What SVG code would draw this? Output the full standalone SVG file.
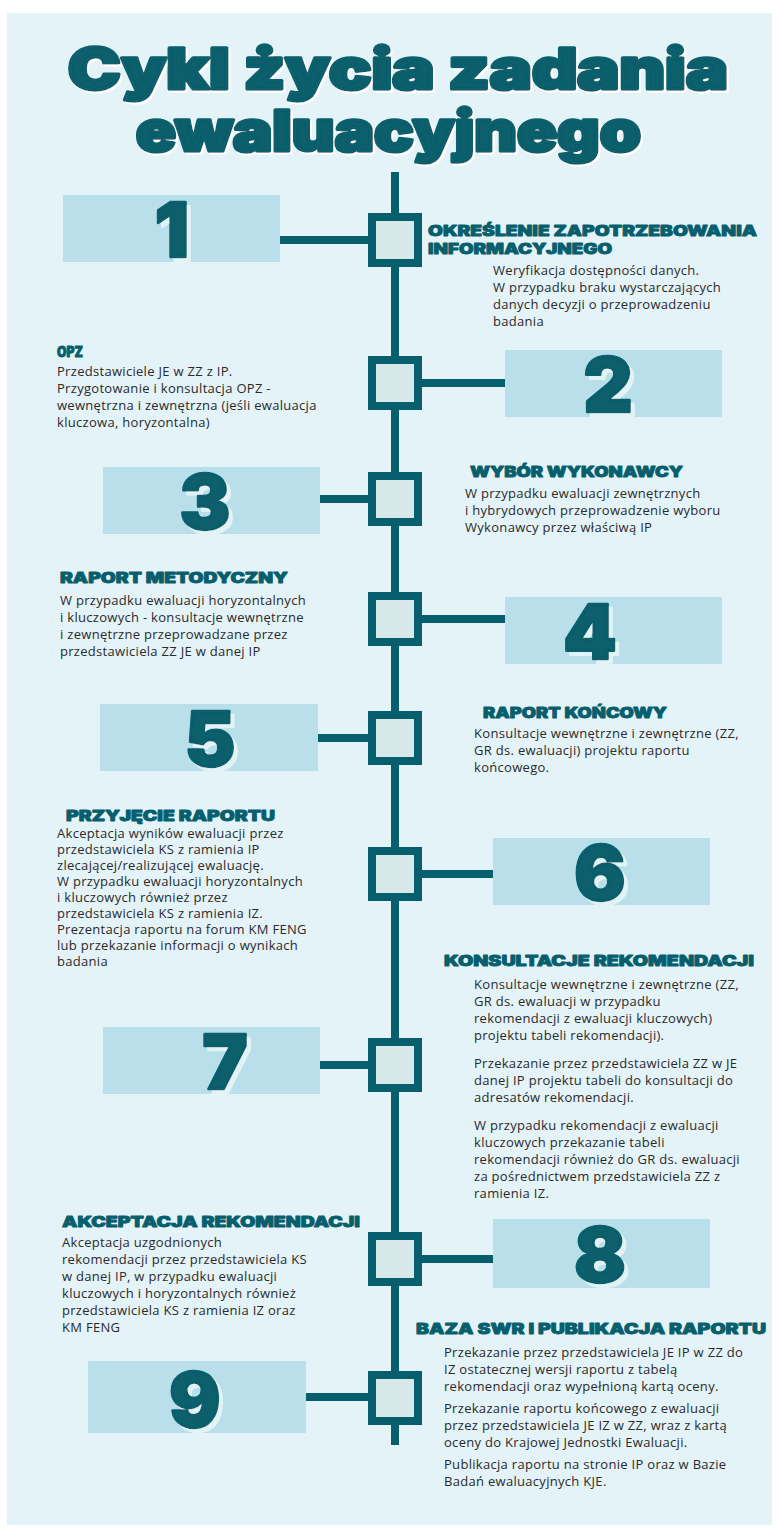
<svg xmlns="http://www.w3.org/2000/svg" width="779" height="1533" viewBox="0 0 779 1533">
<defs>
<filter id="numShadow" x="-20%" y="-20%" width="150%" height="150%">
<feFlood flood-color="#E2F3F6" result="c"/>
<feComposite in="c" in2="SourceAlpha" operator="in" result="s"/>
<feOffset in="s" dx="4" dy="4" result="o"/>
<feMerge><feMergeNode in="o"/><feMergeNode in="SourceGraphic"/></feMerge>
</filter>
<filter id="titleShadow" x="-5%" y="-20%" width="110%" height="140%">
<feFlood flood-color="#FFFFFF" result="c"/>
<feComposite in="c" in2="SourceAlpha" operator="in" result="s"/>
<feOffset in="s" dx="1.5" dy="2" result="o"/>
<feMerge><feMergeNode in="o"/><feMergeNode in="SourceGraphic"/></feMerge>
</filter>
</defs>
<style>
.bg{fill:#E4F3F8}
.title{font-family:Inter,"Liberation Sans",sans-serif;font-weight:900;font-size:56px;fill:#075E6C;stroke:#075E6C;stroke-width:3.5;stroke-linejoin:round;filter:url(#titleShadow)}
.nbox{fill:#B9DFEA}
.num{font-family:Inter,"Liberation Sans",sans-serif;font-weight:900;font-size:76px;fill:#075E6C;stroke:#075E6C;stroke-width:2.5;stroke-linejoin:round;text-anchor:middle;filter:url(#numShadow)}
.sq{fill:#D6E8EA;stroke:#075E6C;stroke-width:8}
.line{stroke:#075E6C;stroke-width:8;fill:none}
.h{font-family:Inter,"Liberation Sans",sans-serif;font-weight:900;font-size:14px;fill:#075E6C;stroke:#075E6C;stroke-width:0.8;stroke-linejoin:round}
.b{font-family:"Open Sans","Liberation Sans",sans-serif;font-size:13px;letter-spacing:0.3px;fill:#2A2A2A}
</style>
<rect class="bg" x="7" y="13" width="765" height="1512"/>
<g id="title">
<text class="title" x="68" y="89" textLength="660" lengthAdjust="spacingAndGlyphs">Cykl życia zadania</text>
<text class="title" x="136" y="151" textLength="505" lengthAdjust="spacingAndGlyphs">ewaluacyjnego</text>
</g>
<g id="connectors">
<line class="line" x1="395" y1="172" x2="395" y2="1445"/>
<line class="line" x1="280" y1="240" x2="372" y2="240"/>
<line class="line" x1="418" y1="383" x2="505" y2="383"/>
<line class="line" x1="320" y1="499" x2="372" y2="499"/>
<line class="line" x1="418" y1="619" x2="505" y2="619"/>
<line class="line" x1="318" y1="738" x2="372" y2="738"/>
<line class="line" x1="418" y1="874" x2="493" y2="874"/>
<line class="line" x1="320" y1="1065" x2="372" y2="1065"/>
<line class="line" x1="418" y1="1259" x2="493" y2="1259"/>
<line class="line" x1="306" y1="1397" x2="372" y2="1397"/>
</g>
<g id="step-1">
<rect class="nbox" x="63" y="195" width="217" height="67"/>
<text class="num" x="172" y="257">1</text>
<rect class="sq" x="372" y="217" width="46" height="46"/>
<text class="h" x="428" y="236" textLength="329" lengthAdjust="spacingAndGlyphs">OKREŚLENIE ZAPOTRZEBOWANIA</text>
<text class="h" x="428" y="254" textLength="184" lengthAdjust="spacingAndGlyphs">INFORMACYJNEGO</text>
<text class="b" x="493" y="275">Weryfikacja dostępności danych.</text>
<text class="b" x="493" y="292">W przypadku braku wystarczających</text>
<text class="b" x="493" y="309">danych decyzji o przeprowadzeniu</text>
<text class="b" x="493" y="326">badania</text>
</g>
<g id="step-2">
<rect class="nbox" x="505" y="350" width="217" height="67"/>
<text class="num" x="608" y="412">2</text>
<rect class="sq" x="372" y="360" width="46" height="46"/>
<text class="h" x="57" y="357" textLength="26" lengthAdjust="spacingAndGlyphs">OPZ</text>
<text class="b" x="57" y="376">Przedstawiciele JE w ZZ z IP.</text>
<text class="b" x="57" y="393">Przygotowanie i konsultacja OPZ -</text>
<text class="b" x="57" y="410">wewnętrzna i zewnętrzna (jeśli ewaluacja</text>
<text class="b" x="57" y="427">kluczowa, horyzontalna)</text>
</g>
<g id="step-3">
<rect class="nbox" x="103" y="467" width="217" height="67"/>
<text class="num" x="205" y="529">3</text>
<rect class="sq" x="372" y="476" width="46" height="46"/>
<text class="h" x="470" y="477" textLength="213" lengthAdjust="spacingAndGlyphs">WYBÓR WYKONAWCY</text>
<text class="b" x="465" y="498">W przypadku ewaluacji zewnętrznych</text>
<text class="b" x="465" y="515">i hybrydowych przeprowadzenie wyboru</text>
<text class="b" x="465" y="532">Wykonawcy przez właściwą IP</text>
</g>
<g id="step-4">
<rect class="nbox" x="505" y="597" width="217" height="67"/>
<text class="num" x="590" y="659">4</text>
<rect class="sq" x="372" y="596" width="46" height="46"/>
<text class="h" x="60" y="583" textLength="228" lengthAdjust="spacingAndGlyphs">RAPORT METODYCZNY</text>
<text class="b" x="60" y="605">W przypadku ewaluacji horyzontalnych</text>
<text class="b" x="60" y="622">i kluczowych - konsultacje wewnętrzne</text>
<text class="b" x="60" y="639">i zewnętrzne przeprowadzane przez</text>
<text class="b" x="60" y="656">przedstawiciela ZZ JE w danej IP</text>
</g>
<g id="step-5">
<rect class="nbox" x="100" y="704" width="218" height="67"/>
<text class="num" x="210" y="766">5</text>
<rect class="sq" x="372" y="715" width="46" height="46"/>
<text class="h" x="483" y="718" textLength="184" lengthAdjust="spacingAndGlyphs">RAPORT KOŃCOWY</text>
<text class="b" x="474" y="738">Konsultacje wewnętrzne i zewnętrzne (ZZ,</text>
<text class="b" x="474" y="755">GR ds. ewaluacji) projektu raportu</text>
<text class="b" x="474" y="772">końcowego.</text>
</g>
<g id="step-6">
<rect class="nbox" x="493" y="838" width="217" height="67"/>
<text class="num" x="600" y="900">6</text>
<rect class="sq" x="372" y="851" width="46" height="46"/>
<text class="h" x="66" y="821" textLength="209" lengthAdjust="spacingAndGlyphs">PRZYJĘCIE RAPORTU</text>
<text class="b" x="57" y="838">Akceptacja wyników ewaluacji przez</text>
<text class="b" x="57" y="854">przedstawiciela KS z ramienia IP</text>
<text class="b" x="57" y="870">zlecającej/realizującej ewaluację.</text>
<text class="b" x="57" y="886">W przypadku ewaluacji horyzontalnych</text>
<text class="b" x="57" y="902">i kluczowych również przez</text>
<text class="b" x="57" y="918">przedstawiciela KS z ramienia IZ.</text>
<text class="b" x="57" y="934">Prezentacja raportu na forum KM FENG</text>
<text class="b" x="57" y="950">lub przekazanie informacji o wynikach</text>
<text class="b" x="57" y="966">badania</text>
</g>
<g id="step-7">
<rect class="nbox" x="103" y="1027" width="217" height="67"/>
<text class="num" x="225" y="1089">7</text>
<rect class="sq" x="372" y="1042" width="46" height="46"/>
<text class="h" x="444" y="966" textLength="310" lengthAdjust="spacingAndGlyphs">KONSULTACJE REKOMENDACJI</text>
<text class="b" x="474" y="989">Konsultacje wewnętrzne i zewnętrzne (ZZ,</text>
<text class="b" x="474" y="1006">GR ds. ewaluacji w przypadku</text>
<text class="b" x="474" y="1023">rekomendacji z ewaluacji kluczowych)</text>
<text class="b" x="474" y="1040">projektu tabeli rekomendacji).</text>
<text class="b" x="474" y="1068">Przekazanie przez przedstawiciela ZZ w JE</text>
<text class="b" x="474" y="1085">danej IP projektu tabeli do konsultacji do</text>
<text class="b" x="474" y="1102">adresatów rekomendacji.</text>
<text class="b" x="474" y="1130">W przypadku rekomendacji z ewaluacji</text>
<text class="b" x="474" y="1147">kluczowych przekazanie tabeli</text>
<text class="b" x="474" y="1164">rekomendacji również do GR ds. ewaluacji</text>
<text class="b" x="474" y="1181">za pośrednictwem przedstawiciela ZZ z</text>
<text class="b" x="474" y="1198">ramienia IZ.</text>
</g>
<g id="step-8">
<rect class="nbox" x="493" y="1219" width="217" height="69"/>
<text class="num" x="600" y="1282">8</text>
<rect class="sq" x="372" y="1236" width="46" height="46"/>
<text class="h" x="62" y="1227" textLength="298" lengthAdjust="spacingAndGlyphs">AKCEPTACJA REKOMENDACJI</text>
<text class="b" x="62" y="1247">Akceptacja uzgodnionych</text>
<text class="b" x="62" y="1264">rekomendacji przez przedstawiciela KS</text>
<text class="b" x="62" y="1281">w danej IP, w przypadku ewaluacji</text>
<text class="b" x="62" y="1298">kluczowych i horyzontalnych również</text>
<text class="b" x="62" y="1315">przedstawiciela KS z ramienia IZ oraz</text>
<text class="b" x="62" y="1332">KM FENG</text>
</g>
<g id="step-9">
<rect class="nbox" x="88" y="1361" width="218" height="72"/>
<text class="num" x="195" y="1427">9</text>
<rect class="sq" x="372" y="1375" width="46" height="46"/>
<text class="h" x="416" y="1334" textLength="350" lengthAdjust="spacingAndGlyphs">BAZA SWR I PUBLIKACJA RAPORTU</text>
<text class="b" x="444" y="1357">Przekazanie przez przedstawiciela JE IP w ZZ do</text>
<text class="b" x="444" y="1374">IZ ostatecznej wersji raportu z tabelą</text>
<text class="b" x="444" y="1391">rekomendacji oraz wypełnioną kartą oceny.</text>
<text class="b" x="444" y="1413">Przekazanie raportu końcowego z ewaluacji</text>
<text class="b" x="444" y="1430">przez przedstawiciela JE IZ w ZZ, wraz z kartą</text>
<text class="b" x="444" y="1447">oceny do Krajowej Jednostki Ewaluacji.</text>
<text class="b" x="444" y="1469">Publikacja raportu na stronie IP oraz w Bazie</text>
<text class="b" x="444" y="1486">Badań ewaluacyjnych KJE.</text>
</g>
</svg>
